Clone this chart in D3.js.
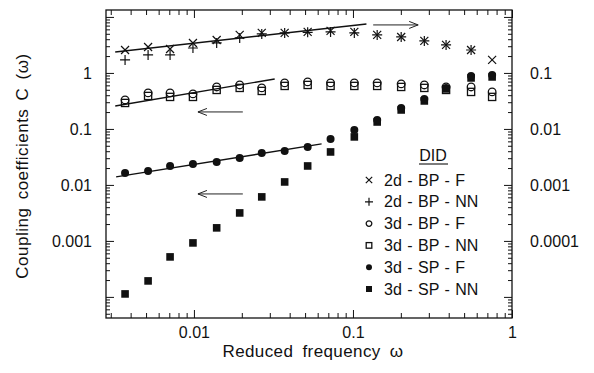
<!DOCTYPE html>
<html><head><meta charset="utf-8">
<script src="https://cdn.jsdelivr.net/npm/d3@7"></script>
<style>
body{margin:0;background:#fff;}
text{font-family:"Liberation Sans",Arial,Helvetica,sans-serif;fill:#111;}
</style>
</head><body>
<svg id="c" width="594" height="373"></svg>
<script>
// ---- data ----
const freq   = [0.00369,0.00515,0.00708,0.00986,0.0139,0.0194,0.0267,0.0372,0.0519,0.0723,0.102,0.142,0.201,0.281,0.385,0.553,0.750];
// 2d series are read against the right-hand axis
const bp2dF  = [0.257,0.291,0.268,0.343,0.388,0.477,0.518,0.518,0.540,0.562,0.540,0.477,0.439,0.373,0.316,0.257,0.171];
const bp2dNN = [0.171,0.210,0.210,0.279,0.343,0.422,0.497,0.518,0.530,0.540,0.518,0.477,0.439,0.373,0.316,0.257];
// 3d series are read against the left-hand axis
const bp3dF  = [0.330,0.440,0.440,0.422,0.562,0.610,0.540,0.663,0.691,0.663,0.663,0.663,0.637,0.610,0.562,0.562,0.458];
const bp3dNN = [0.291,0.388,0.373,0.373,0.497,0.540,0.477,0.586,0.610,0.586,0.586,0.586,0.562,0.540,0.497,0.458,0.373];
const sp3dF  = [0.0164,0.0178,0.0218,0.0237,0.0257,0.0303,0.0373,0.0405,0.0477,0.0663,0.0960,0.145,0.237,0.343,0.540,0.884,0.921];
const sp3dNN = [0.000113,0.000193,0.000518,0.000921,0.00171,0.00316,0.00611,0.0113,0.0218,0.0388,0.0720,0.133,0.218,0.316,0.518,0.814,0.848];

// straight-line fits (x pair, y pair)
const fit2dX = [0.0032,0.1216], fit2dY = [0.237,0.75];   // right axis
const fitBPX = [0.0032,0.0322], fitBPY = [0.257,0.781];  // left axis
const fitSPX = [0.00324,0.0635], fitSPY = [0.0139,0.054];// left axis

// arrows indicating the axis to read (x from, x to, y on left axis)
const arrowUpX = [0.134,0.257], arrowUpY = 7.2;
const arrowMidX = [0.0203,0.0106], arrowMidY = 0.201;
const arrowLowX = [0.0203,0.0106], arrowLowY = 0.0069;

const xTickVals = [0.01,0.1,1], xTickLabels = ["0.01","0.1","1"];
const yLeftVals = [1,0.1,0.01,0.001], yLeftLabels = ["1","0.1","0.01","0.001"];
const yRightVals = [0.1,0.01,0.001,0.0001], yRightLabels = ["0.1","0.01","0.001","0.0001"];
const legendTitle = "DID";
const legendLabels = ["2d - BP - F","2d - BP - NN","3d - BP - F","3d - BP - NN","3d - SP - F","3d - SP - NN"];
const xTitle = "Reduced frequency \u03c9";
const yTitle = "Coupling coefficients C (\u03c9)";

// ---- layout ----
const svg = d3.select("#c");
const m = {l:106, r:512, t:10, b:318};
const x  = d3.scaleLog().domain([0.0028,1]).range([m.l,m.r]);
const yL = d3.scaleLog().domain([4.2e-5,13.3]).range([m.b,m.t]);
const yR = d3.scaleLog().domain([4.2e-6,1.33]).range([m.b,m.t]);

function logTicks(dom){
  const t=[];
  for(let e=-7;e<=2;e++) for(let k=1;k<10;k++){
    const v=+(k+"e"+e);
    if(v>=dom[0]*0.9999 && v<=dom[1]*1.0001) t.push({v, major:k===1});
  }
  return t;
}
const isMajor = v => Math.abs(Math.log10(v)-Math.round(Math.log10(v)))<1e-6;

function styleAxis(g, attr, majLen, minLen){
  g.select(".domain").remove();
  g.selectAll(".tick line").attr(attr, d => (isMajor(d)?majLen:minLen)).attr("stroke","#111").attr("stroke-width",1);
}
const fs = 16;
// left axis
const tL = logTicks(yL.domain()).map(d=>d.v);
const gL = svg.append("g").attr("transform",`translate(${m.l},0)`)
  .call(d3.axisLeft(yL).tickValues(tL).tickSize(-8).tickPadding(14)
    .tickFormat(d => { const i=yLeftVals.findIndex(v=>Math.abs(v-d)/v<1e-6); return i>=0?yLeftLabels[i]:""; }));
styleAxis(gL,"x2",8,4);
gL.selectAll("text").attr("font-size",fs);
// right axis
const tR = logTicks(yR.domain()).map(d=>d.v);
const gR = svg.append("g").attr("transform",`translate(${m.r},0)`)
  .call(d3.axisRight(yR).tickValues(tR).tickSize(-8).tickPadding(18)
    .tickFormat(d => { const i=yRightVals.findIndex(v=>Math.abs(v-d)/v<1e-6); return i>=0?yRightLabels[i]:""; }));
styleAxis(gR,"x2",-8,-4);
gR.selectAll("text").attr("font-size",fs);
// bottom axis
const tX = logTicks(x.domain()).map(d=>d.v);
const gB = svg.append("g").attr("transform",`translate(0,${m.b})`)
  .call(d3.axisBottom(x).tickValues(tX).tickSize(-8).tickPadding(9)
    .tickFormat(d => { const i=xTickVals.findIndex(v=>Math.abs(v-d)/v<1e-6); return i>=0?xTickLabels[i]:""; }));
styleAxis(gB,"y2",-8,-5);
gB.selectAll("text").attr("font-size",fs);
// top axis
const gT = svg.append("g").attr("transform",`translate(0,${m.t})`)
  .call(d3.axisTop(x).tickValues(tX).tickSize(-8).tickFormat(""));
styleAxis(gT,"y2",8,5);

// frame
svg.append("rect").attr("x",m.l).attr("y",m.t).attr("width",m.r-m.l).attr("height",m.b-m.t)
  .attr("fill","none").attr("stroke","#111").attr("stroke-width",1.3);

// titles
svg.append("text").attr("x",(m.l+m.r)/2+4).attr("y",357).attr("text-anchor","middle")
  .attr("font-size",17).attr("word-spacing",4).attr("letter-spacing",0.4).text(xTitle);
svg.append("text").attr("transform","translate(28,166) rotate(-90)").attr("text-anchor","middle")
  .attr("font-size",17).attr("word-spacing",3).attr("letter-spacing",0.5).text(yTitle);

// fit lines
const line = (xs,ys,ys2) => svg.append("line")
  .attr("x1",x(xs[0])).attr("x2",x(xs[1])).attr("y1",ys2(ys[0])).attr("y2",ys2(ys[1]))
  .attr("stroke","#111").attr("stroke-width",1.4);
line(fit2dX,fit2dY,yR); line(fitBPX,fitBPY,yL); line(fitSPX,fitSPY,yL);

// arrows
function arrow(xs,yv){
  const x1=x(xs[0]), x2=x(xs[1]), yy=yL(yv), dir = x2>x1?1:-1;
  svg.append("line").attr("x1",x1).attr("x2",x2).attr("y1",yy).attr("y2",yy).attr("stroke","#222").attr("stroke-width",1);
  svg.append("path").attr("d",`M${x2-dir*9},${yy-3.5}L${x2},${yy}L${x2-dir*9},${yy+3.5}`)
    .attr("fill","none").attr("stroke","#222").attr("stroke-width",1);
}
arrow(arrowUpX,arrowUpY); arrow(arrowMidX,arrowMidY); arrow(arrowLowX,arrowLowY);

// markers
const mk = {
  cross:(g,s)=>g.append("path").attr("d",`M${-s},${-s}L${s},${s}M${-s},${s}L${s},${-s}`).attr("stroke","#111").attr("stroke-width",1.2).attr("fill","none"),
  plus:(g,s)=>g.append("path").attr("d",`M${-s-0.5},0L${s+0.5},0M0,${-s-0.5}L0,${s+0.5}`).attr("stroke","#111").attr("stroke-width",1.2).attr("fill","none"),
  ocirc:(g,s)=>g.append("circle").attr("r",s).attr("fill","none").attr("stroke","#111").attr("stroke-width",1.3),
  osq:(g,s)=>g.append("rect").attr("x",-s).attr("y",-s).attr("width",2*s).attr("height",2*s).attr("fill","none").attr("stroke","#111").attr("stroke-width",1.3),
  fcirc:(g,s)=>g.append("circle").attr("r",s).attr("fill","#111"),
  fsq:(g,s)=>g.append("rect").attr("x",-s).attr("y",-s).attr("width",2*s).attr("height",2*s).attr("fill","#111")
};
const series = [
  {vals:bp2dF, y:yR, type:"cross", size:4},
  {vals:bp2dNN,y:yR, type:"plus",  size:4.5},
  {vals:bp3dNN,y:yL, type:"osq",   size:3.6},
  {vals:bp3dF, y:yL, type:"ocirc", size:3.8},
  {vals:sp3dNN,y:yL, type:"fsq",   size:3.8},
  {vals:sp3dF, y:yL, type:"fcirc", size:4}
];
series.forEach(s=>{
  s.vals.forEach((v,i)=>{
    const g = svg.append("g").attr("transform",`translate(${x(freq[i])},${s.y(v)})`);
    mk[s.type](g,s.size);
  });
});

// legend
const lgX = 369, lgTextX = 384, lgY0 = 180, lgDy = 21.8;
svg.append("text").attr("x",433).attr("y",155).attr("dy","0.35em").attr("text-anchor","middle")
  .attr("font-size",fs).text(legendTitle);
svg.append("line").attr("x1",419).attr("x2",448).attr("y1",164).attr("y2",164).attr("stroke","#111").attr("stroke-width",1.1);
const lgTypes = [["cross",3.2],["plus",3.5],["ocirc",2.8],["osq",2.8],["fcirc",3],["fsq",3]];
legendLabels.forEach((lab,i)=>{
  const yy = lgY0 + i*lgDy;
  const g = svg.append("g").attr("transform",`translate(${lgX},${yy})`);
  mk[lgTypes[i][0]](g,lgTypes[i][1]);
  svg.append("text").attr("x",lgTextX).attr("y",yy).attr("dy","0.35em").attr("font-size",fs)
    .attr("word-spacing",1).text(lab);
});
</script>
</body></html>
